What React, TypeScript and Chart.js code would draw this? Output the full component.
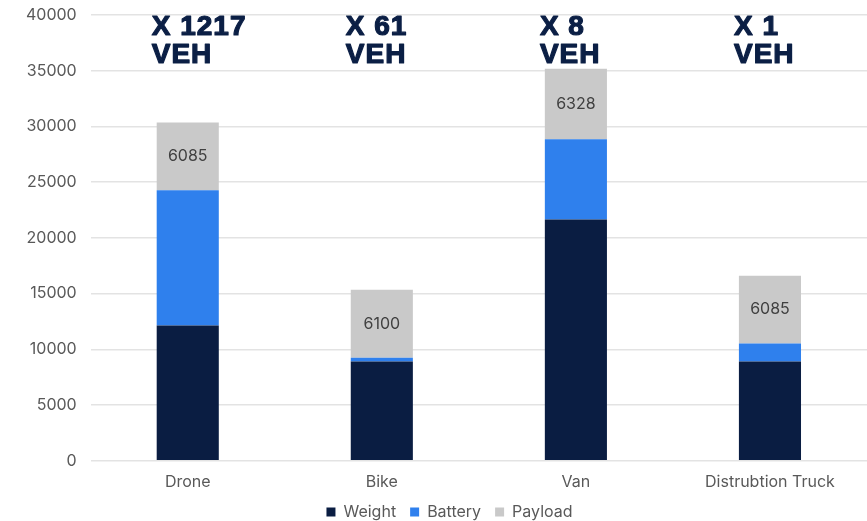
import React, { useEffect, useRef } from "react";
import { Chart, registerables } from "chart.js";

Chart.register(...registerables);

const categories = ["Drone", "Bike", "Van", "Distrubtion Truck"];
const weightValues = [12150, 8900, 21650, 8900];
const batteryValues = [12120, 350, 7200, 1620];
const payloadValues = [6085, 6100, 6328, 6085];
const vehicleCounts = ["X 1217", "X 61", "X 8", "X 1"];
const vehicleUnit = "VEH";
const yTicks = [0, 5000, 10000, 15000, 20000, 25000, 30000, 35000, 40000];

const annotationPlugin = {
  id: "vehAnnotations",
  afterLayout(chart: any) {
    if (chart.legend) {
      chart.legend.left += 20;
      chart.legend.width -= 20;
    }
  },
  afterDatasetsDraw(chart: any) {
    const ctx = chart.ctx;
    const x = chart.scales.x;
    ctx.save();
    ctx.fillStyle = "#0b1f45";
    ctx.strokeStyle = "#0b1f45";
    ctx.lineWidth = 1.2;
    ctx.lineJoin = "round";
    ctx.font = "bold 28px 'Liberation Sans'";
    (ctx as any).letterSpacing = "1px";
    ctx.textAlign = "left";
    ctx.textBaseline = "alphabetic";
    vehicleCounts.forEach((t, i) => {
      const cx = x.getPixelForValue(i);
      ctx.fillText(t, cx - 36, 35);
      ctx.strokeText(t, cx - 36, 35);
      ctx.fillText(vehicleUnit, cx - 36, 63);
      ctx.strokeText(vehicleUnit, cx - 36, 63);
    });
    (ctx as any).letterSpacing = "0px";
    const meta = chart.getDatasetMeta(2);
    ctx.fillStyle = "#404040";
    ctx.font = "16px Inter";
    ctx.textAlign = "center";
    ctx.textBaseline = "middle";
    meta.data.forEach((el: any, i: number) => {
      const yMid = (el.y + el.base) / 2;
      ctx.fillText(String(payloadValues[i]), el.x, yMid);
    });
    ctx.restore();
  },
};

export default function App() {
  const ref = useRef<HTMLCanvasElement>(null);
  useEffect(() => {
    if (!ref.current) return;
    const chart = new Chart(ref.current, {
      type: "bar",
      data: {
        labels: categories,
        datasets: [
          { label: "Weight", data: weightValues, backgroundColor: "#0a1d42" },
          { label: "Battery", data: batteryValues, backgroundColor: "#2f80ed" },
          { label: "Payload", data: payloadValues, backgroundColor: "#c9c9c9" },
        ],
      },
      options: {
        animation: false,
        responsive: true,
        maintainAspectRatio: false,
        layout: { padding: { top: 0, right: 0, left: 12, bottom: -9 } },
        datasets: { bar: { barPercentage: 0.64, categoryPercentage: 0.5 } },
        scales: {
          x: {
            stacked: true,
            grid: { display: false, drawTicks: false },
            border: { display: false },
            ticks: { color: "#595959", font: { family: "Inter", size: 16 }, padding: 12 },
            afterFit: (axis: any) => {
              axis.height = axis.height - 14;
            },
          },
          y: {
            stacked: true,
            min: 0,
            max: 40000,
            afterBuildTicks: (axis: any) => {
              axis.ticks = yTicks.map((v) => ({ value: v }));
            },
            afterFit: (axis: any) => {
              axis.paddingTop = 15;
              axis.paddingBottom = 0;
            },
            grid: { color: "#e3e3e3", drawTicks: false, lineWidth: 1.5 },
            border: { display: false },
            ticks: {
              color: "#595959",
              font: { family: "Inter", size: 16 },
              padding: 14,
              callback: (v: any) => String(v),
            },
          },
        },
        plugins: {
          legend: {
            position: "bottom",
            labels: {
              usePointStyle: true,
              pointStyle: "rect",
              boxWidth: 9,
              boxHeight: 9,
              color: "#595959",
              font: { family: "Inter", size: 16 },
              padding: 14,
            },
          },
          tooltip: { enabled: false },
        },
      },
      plugins: [annotationPlugin],
    });
    return () => chart.destroy();
  }, []);
  return (
    <div style={{ position: "fixed", left: 0, top: 0, width: 867, height: 521, background: "#fff" }}>
      <canvas ref={ref} />
    </div>
  );
}
